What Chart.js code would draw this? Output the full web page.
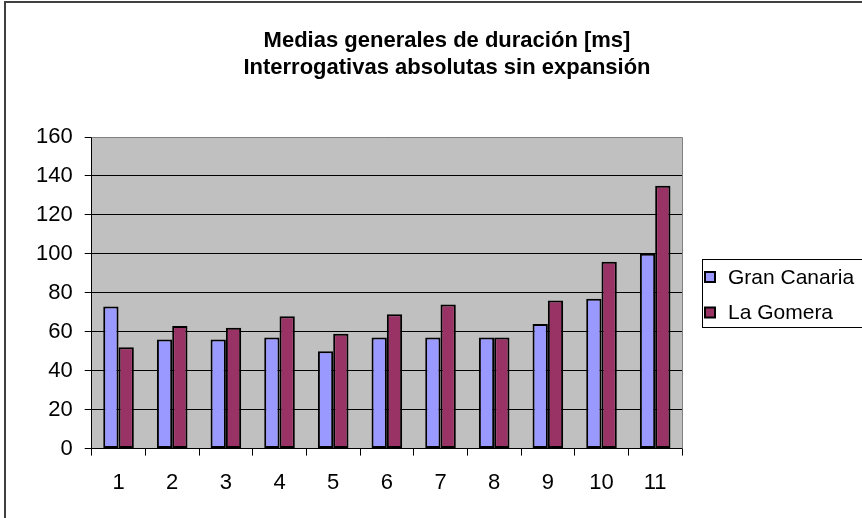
<!DOCTYPE html>
<html>
<head>
<meta charset="utf-8">
<script src="https://cdn.jsdelivr.net/npm/chart.js@4/dist/chart.umd.min.js"></script>
<style>
  html, body { margin: 0; padding: 0; background: #fff; }
  #wrap { width: 862px; height: 518px; position: relative; }
</style>
</head>
<body>
<div id="wrap"><canvas id="chart"></canvas></div>
<script>
var categories = ["1", "2", "3", "4", "5", "6", "7", "8", "9", "10", "11"];
var granCanaria = [73, 56, 56, 57, 50, 57, 57, 57, 64, 77, 100];
var laGomera = [52, 63, 62, 68, 59, 69, 74, 57, 76, 96, 135];
var seriesNames = ["Gran Canaria", "La Gomera"];
var seriesColors = ["#9999FF", "#993366"];
var titleLines = ["Medias generales de duración [ms]", "Interrogativas absolutas sin expansión"];

var FONT = "Arial, 'Liberation Sans', sans-serif";

// gray plot background, outer frame, title, plot border and a boxed legend
var excelLook = {
	id: 'excelLook',
	beforeDraw: function(chart){
		var ctx = chart.ctx, a = chart.chartArea;
		ctx.save();
		ctx.fillStyle = '#fff';
		ctx.fillRect(0, 0, chart.width, chart.height);
		ctx.strokeStyle = '#404040';
		ctx.lineWidth = 2;
		ctx.beginPath();
		ctx.moveTo(5, chart.height + 2);
		ctx.lineTo(5, 2);
		ctx.lineTo(chart.width + 2, 2);
		ctx.stroke();
		ctx.fillStyle = '#C0C0C0';
		ctx.fillRect(a.left, a.top, a.right - a.left, a.bottom - a.top);
		ctx.restore();
	},
	afterDraw: function(chart){
		var ctx = chart.ctx, a = chart.chartArea;
		ctx.save();
		ctx.strokeStyle = '#808080';
		ctx.lineWidth = 1;
		ctx.beginPath();
		ctx.moveTo(a.left, a.top + 0.5);
		ctx.lineTo(a.right + 0.5, a.top + 0.5);
		ctx.lineTo(a.right + 0.5, a.bottom);
		ctx.stroke();

		// title
		ctx.fillStyle = '#000';
		ctx.font = 'bold 22px ' + FONT;
		ctx.textAlign = 'center';
		ctx.textBaseline = 'middle';
		titleLines.forEach(function(t, i){
			ctx.fillText(t, 447, 41 + i * 27);
		});

		// legend
		var lx = 702, ly = 259, lw = 170, lh = 68;
		ctx.strokeStyle = '#000';
		ctx.lineWidth = 1;
		ctx.strokeRect(lx + 0.5, ly + 0.5, lw, lh);
		ctx.font = '21px ' + FONT;
		ctx.textAlign = 'left';
		chart.data.datasets.forEach(function(ds, i){
			var cy = 277 + i * 35.5;
			ctx.fillStyle = ds.backgroundColor;
			ctx.fillRect(705, cy - 5, 10, 10);
			ctx.strokeStyle = '#000';
			ctx.lineWidth = 2;
			ctx.strokeRect(705, cy - 5, 10, 10);
			ctx.fillStyle = '#000';
			ctx.fillText(ds.label, 728, cy + 1);
		});
		ctx.restore();
	}
};

var chart = new Chart(document.getElementById('chart').getContext('2d'), {
	type: 'bar',
	data: {
		labels: categories,
		datasets: [{
			label: seriesNames[0],
			data: granCanaria,
			backgroundColor: seriesColors[0],
			borderColor: '#000',
			borderWidth: 2,
			borderSkipped: false
		}, {
			label: seriesNames[1],
			data: laGomera,
			backgroundColor: seriesColors[1],
			borderColor: '#000',
			borderWidth: 2,
			borderSkipped: false
		}]
	},
	options: {
		responsive: true,
		maintainAspectRatio: false,
		animation: false,
		devicePixelRatio: 1,
		layout: {
			padding: { left: 24, right: 180, top: 137, bottom: 8 }
		},
		datasets: {
			bar: { categoryPercentage: 0.57, barPercentage: 1 }
		},
		plugins: {
			legend: { display: false },
			tooltip: { enabled: false },
			title: { display: false }
		},
		scales: {
			x: {
				offset: true,
				grid: {
					display: true,
					offset: true,
					drawOnChartArea: false,
					drawTicks: true,
					tickLength: 7,
					color: '#000'
				},
				border: { display: true, color: '#000', width: 1 },
				ticks: {
					color: '#000',
					padding: 14,
					font: { family: FONT, size: 22 }
				}
			},
			y: {
				min: 0,
				max: 160,
				grid: {
					color: '#000',
					tickLength: 7,
					lineWidth: 1
				},
				border: { display: true, color: '#000', width: 1 },
				ticks: {
					stepSize: 20,
					color: '#000',
					padding: 12,
					font: { family: FONT, size: 22 }
				}
			}
		}
	},
	plugins: [excelLook]
});
</script>
</body>
</html>
